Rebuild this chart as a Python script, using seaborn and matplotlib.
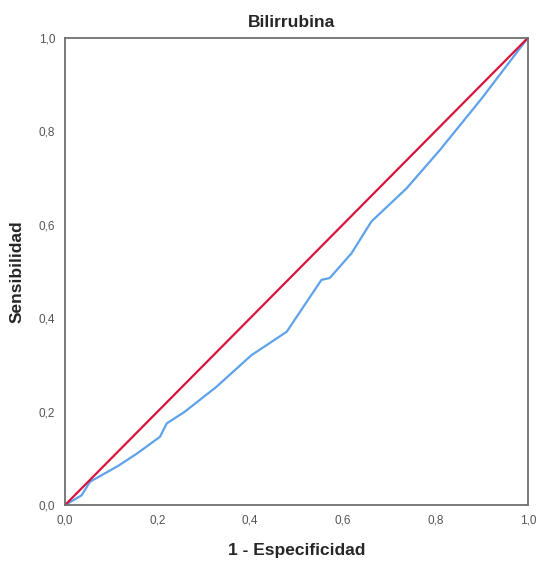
# -*- coding: utf-8 -*-

import pandas as pd
import matplotlib
matplotlib.use('Agg')
import matplotlib.pyplot as plt
import seaborn as sns


# Curva ROC (1 - especificidad, sensibilidad)
fpr = [0.0, 0.036, 0.054, 0.115, 0.155, 0.205, 0.22, 0.259, 0.327, 0.403,
       0.479, 0.508, 0.554, 0.572, 0.619, 0.662, 0.738, 0.81, 0.9, 1.0]
tpr = [0.0, 0.021, 0.05, 0.084, 0.11, 0.146, 0.175, 0.2, 0.253, 0.321,
       0.371, 0.414, 0.482, 0.486, 0.539, 0.607, 0.678, 0.76, 0.87, 1.0]
ref = [0.0, 1.0]

TICKS = [0.0, 0.2, 0.4, 0.6, 0.8, 1.0]
TICK_LABELS = ['0,0', '0,2', '0,4', '0,6', '0,8', '1,0']


def main():
    sns.set_style('white')
    plt.rcParams['font.family'] = ['Liberation Sans', 'DejaVu Sans']

    fig = plt.figure(figsize=(5.37, 5.65), dpi=100)
    ax = fig.add_axes([0.121, 0.106, 0.862, 0.827])

    df = pd.DataFrame({'x': fpr, 'y': tpr})
    sns.lineplot(data=df, x='x', y='y', ax=ax, color='#5ea2ec',
                 linewidth=1.6, sort=False, estimator=None)
    diag = pd.DataFrame({'x': ref, 'y': ref})
    sns.lineplot(data=diag, x='x', y='y', ax=ax, color='#d8133c',
                 linewidth=1.6, sort=False, estimator=None)

    ax.set_xlim(0, 1)
    ax.set_ylim(0, 1)
    ax.set_xticks(TICKS)
    ax.set_xticklabels(TICK_LABELS)
    ax.set_yticks(TICKS)
    ax.set_yticklabels(TICK_LABELS)
    ax.tick_params(axis='both', length=0, labelsize=8.5, colors='#555555', pad=7)

    for sp in ax.spines.values():
        sp.set_color('#707070')
        sp.set_linewidth(1.3)

    ax.set_title('Bilirrubina', fontsize=12.5, fontweight='bold', pad=8,
                 x=0.49)
    ax.set_xlabel('1 - Especificidad', fontsize=12.5, fontweight='bold', labelpad=12)
    ax.set_ylabel('Sensibilidad', fontsize=12.5, fontweight='bold', labelpad=10)

    fig.savefig('out.png', dpi=100)


if __name__ == '__main__':
    main()
